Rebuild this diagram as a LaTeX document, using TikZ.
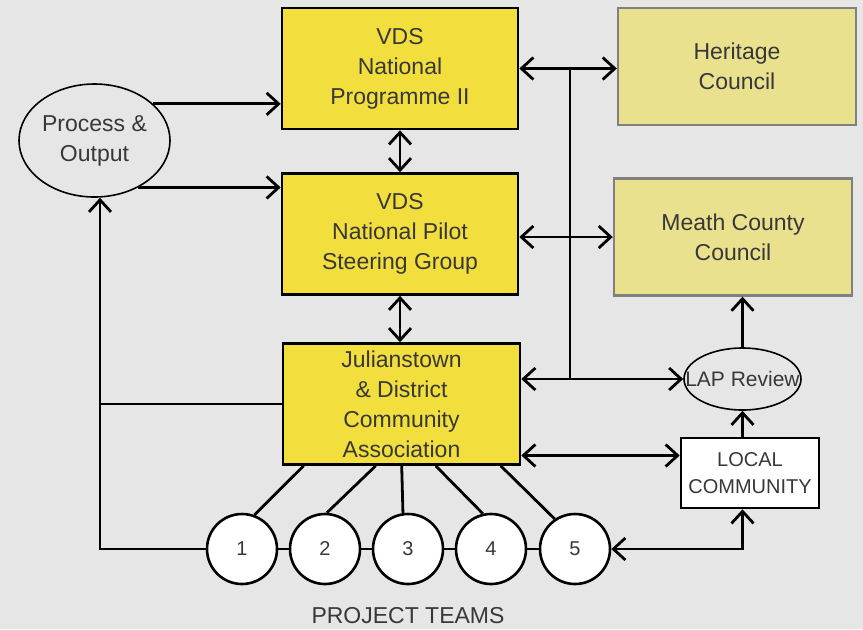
\documentclass[tikz,border=0pt]{standalone}
\usepackage{fontspec}
\setmainfont{Liberation Sans}
\usetikzlibrary{arrows.meta, positioning, shapes.geometric}
\definecolor{vdsyellow}{HTML}{F2DE3C}
\definecolor{cncyellow}{HTML}{EAE18F}
\definecolor{bggray}{HTML}{E6E6E6}

\begin{document}
\begin{tikzpicture}[x=0.5pt, y=-0.5pt,
    font=\fontsize{11.5}{15}\selectfont, text=black!78,
    b/.style={draw, line width=1.3pt, fill=vdsyellow, align=center, minimum width=118pt, minimum height=60.5pt, inner sep=1pt},
    c/.style={draw=black!50, line width=1.2pt, fill=cncyellow, align=center, minimum width=119pt, minimum height=58.5pt},
    e/.style={draw, ellipse, line width=0.8pt, align=center, inner sep=0pt},
    t/.style={draw, circle, line width=1.3pt, fill=white, minimum size=35pt, inner sep=0pt, font=\fontsize{10}{12}\selectfont},
    tip/.tip={Straight Barb[length=6pt, width=11pt]},
    arr/.style={tip-tip, line width=1.4pt},
    ln/.style={line width=1.4pt}]

  \fill[bggray] (0,0) rectangle (863,629);
  \useasboundingbox (0,0) rectangle (863,629);

  % main column
  \node[b] (vds) at (400,68.5) {VDS\\National\\Programme II};
  \node[b] (pilot) at (400,234) {VDS\\National Pilot\\Steering Group};
  \node[b, minimum width=118.5pt] (jda) at (401.5,404) {Julianstown\\\& District\\Community\\Association};

  % councils
  \node[c] (hc) at (737,66.5) {Heritage\\Council};
  \node[c] (mcc) at (733,237) {Meath County\\Council};

  \node[e, minimum width=75.5pt, minimum height=56.5pt] (po) at (94.5,140.5) {Process \&\\Output};
  \node[e, inner xsep=-10pt, minimum width=58.5pt, minimum height=31pt, font=\fontsize{10.5}{12}\selectfont] (lap) at (742.5,379) {LAP Review};
  \node[draw, line width=1.3pt, fill=white, minimum width=69pt, minimum height=35pt, inner sep=1pt, align=center, font=\fontsize{10}{13.5}\selectfont] (loc) at (750,473) {LOCAL\\COMMUNITY};

  % project teams
  \foreach \i/\x in {1/242,2/325,3/408,4/491,5/575}
    \node[t] (t\i) at (\x,549) {\i};
  \node (pt) at (408,616) {PROJECT TEAMS};

  \coordinate (bus) at (570,0);
  \coordinate (lft) at (100,0);

  \draw[ln, -tip] (po.32) -- (po.32 -| vds.west);
  \draw[ln, -tip] (po.-47) -- (po.-47 -| pilot.west);
  \draw[arr] (vds) -- (pilot);
  \draw[arr] (pilot.south) -- (pilot.south |- jda.north);
  \draw[arr] (vds.east) -- (vds.east -| hc.west);
  \draw[ln] (vds.east -| bus) -- (lap.west -| bus);
  \draw[arr] (pilot.east |- mcc.west) -- (mcc.west);
  \draw[arr] (jda.east |- lap.west) -- (lap.west);
  \draw[arr] (loc.166 -| jda.east) -- (loc.166);
  \draw[ln, -tip] (loc.north -| lap.south) -- (lap.south);
  \draw[ln, -tip] (lap.north) -- (lap.north |- mcc.south);
  \draw[arr] (t5.east) -- (t5.east -| lap.south) -- (loc.south -| lap.south);
  \draw[ln, -tip] (t1.west) -- (t1.west -| lft) -- (lft |- po.south);
  \draw[ln] (jda.west) -- (jda.west -| lft);
  \foreach \a/\b in {1/2,2/3,3/4,4/5}
    \draw[ln] (t\a) -- (t\b);
  \foreach \dx/\i/\ang in {11/1/70, 47/2/87, 60/3/98, 77/4/103, 109.5/5/124}
    \draw[ln] ([xshift=\dx pt]jda.south west) -- (t\i.\ang);
\end{tikzpicture}
\end{document}
